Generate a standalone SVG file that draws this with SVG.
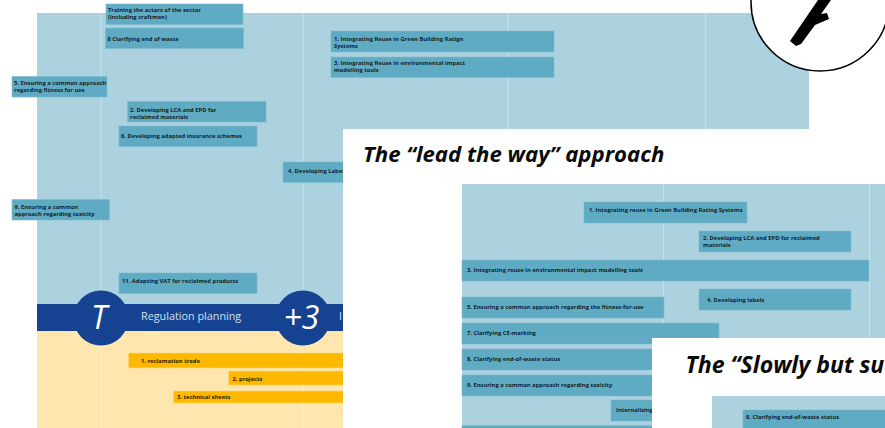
<svg xmlns="http://www.w3.org/2000/svg" width="885" height="428" viewBox="0 0 885 428">
<style>
text{font-family:"Open Sans","Noto Sans","Liberation Sans",sans-serif}
.panel{fill:#acd2e0}
.grid{stroke:#c7e0ea;stroke-width:1.2;fill:none}
.gridy{stroke:#fff0c9;stroke-width:1.2;fill:none}
.box{fill:#60abc4;stroke:#7db9ce;stroke-width:.6}
.bar{fill:#fdb900;stroke:#fdd777;stroke-width:.6}
.lbl{font-size:5.8px;font-weight:700;fill:#10242c}
.ybl{font-size:5.8px;font-weight:700;fill:#2d2200}
.title{font-size:22.2px;font-weight:700;font-style:italic;fill:#0a0a0a}
.title2{font-size:23.1px;font-weight:700;font-style:italic;fill:#0a0a0a}
.band{fill:#164391}
.cir{font-size:32px;font-style:italic;fill:#fff;text-anchor:middle}
.reg{font-size:10.8px;fill:#d4e0f0}
</style>
<g id="slide-1">
<rect class="panel" x="37" y="13" width="772" height="292"/>
<rect x="37" y="331" width="320" height="97" fill="#fee6ae"/>
<path class="grid" d="M101 13V305M303 13V305M508 13V129M705.500 13V129"/>
<path class="gridy" d="M101 331V428M303 331V428"/>
<rect class="band" x="37" y="304" width="320" height="27"/>
</g>
<g id="node-t"><circle class="band" cx="101" cy="318" r="27.500"/><text class="cir" x="99" y="329">T</text></g>
<g id="node-plus3"><circle class="band" cx="303" cy="318" r="27.500"/><text class="cir" x="301.500" y="329">+3</text></g>
<g id="node-regulation"><text class="reg" x="141" y="320">Regulation planning</text><text class="reg" x="339" y="320">I</text></g>
<g id="node-training"><rect class="box" x="106" y="4" width="137" height="20.500"/><text class="lbl"><tspan x="108" y="12">Training the actors of the sector</tspan><tspan x="108" y="19">(including craftmen)</tspan></text></g>
<g id="node-clarifying-waste"><rect class="box" x="105.500" y="28" width="138" height="20.500"/><text class="lbl" x="107.500" y="41">8 Clarifying end of waste</text></g>
<g id="node-fitness"><rect class="box" x="12" y="76.500" width="95" height="20.500"/><text class="lbl"><tspan x="14" y="85">5. Ensuring a common approach</tspan><tspan x="14" y="92">regarding fitness for use</tspan></text></g>
<g id="node-lca"><rect class="box" x="127.500" y="101.500" width="138.500" height="20.500"/><text class="lbl"><tspan x="130" y="111.500">2. Developing LCA and EPD for</tspan><tspan x="130" y="118.500">reclaimed materials</tspan></text></g>
<g id="node-insurance"><rect class="box" x="119" y="126" width="138" height="20.500"/><text class="lbl" x="121" y="138">6. Developing adapted insurance schemes</text></g>
<g id="node-labels-1"><rect class="box" x="283" y="162" width="62" height="20.500"/><text class="lbl" x="288" y="173">4. Developing Labels</text></g>
<g id="node-toxicity"><rect class="box" x="12" y="199.500" width="97.500" height="20.500"/><text class="lbl"><tspan x="14.500" y="208.500">9. Ensuring a common</tspan><tspan x="14.500" y="215.500">approach regarding toxicity</tspan></text></g>
<g id="node-vat"><rect class="box" x="119" y="273" width="138" height="20.500"/><text class="lbl" x="122" y="283">11. Adapting VAT for reclaimed products</text></g>
<g id="node-gbr-1"><rect class="box" x="331" y="31" width="223" height="21"/><text class="lbl"><tspan x="334" y="41">1. Integrating Reuse in Green Building Ratign</tspan><tspan x="334" y="48">Systems</tspan></text></g>
<g id="node-env-1"><rect class="box" x="331" y="57" width="223" height="20.500"/><text class="lbl"><tspan x="334" y="65">3. Integrating Reuse in environmental impact</tspan><tspan x="334" y="72">modelling tools</tspan></text></g>
<g id="node-trade"><rect class="bar" x="128.500" y="353" width="229" height="15"/><text class="ybl" x="141" y="363">1. reclamation trade</text></g>
<g id="node-projects"><rect class="bar" x="228.500" y="371" width="129" height="14"/><text class="ybl" x="232.500" y="380.500">2. projects</text></g>
<g id="node-sheets"><rect class="bar" x="173.500" y="391" width="184" height="12"/><text class="ybl" x="177" y="399">3. technical sheets</text></g>
<g id="node-branch-icon">
<circle cx="820" cy="2" r="69" fill="#fff" stroke="#000" stroke-width="1.500"/>
<path d="M790 41L818 0H831L821 14L827 13L829 19L815 25L801 44L796 46Z" fill="#000"/>
</g>
<g id="slide-2">
<rect x="343" y="129" width="542" height="299" fill="#fff"/>
<text class="title" x="363" y="162">The “lead the way” approach</text>
<rect class="panel" x="462" y="184" width="423" height="244"/>
<path class="grid" d="M663.500 184V428M869.500 184V428"/>
</g>
<g id="node-gbr-2"><rect class="box" x="584" y="202" width="163" height="21"/><text class="lbl" x="589" y="212">1. Integrating reuse in Green Building Rating Systems</text></g>
<g id="node-lca-2"><rect class="box" x="699" y="231" width="152" height="21"/><text class="lbl"><tspan x="703" y="240">2. Developing LCA and EPD for reclaimed</tspan><tspan x="703" y="247">materials</tspan></text></g>
<g id="node-env-2"><rect class="box" x="462" y="260" width="407" height="21"/><text class="lbl" x="467" y="272">3. Integrating reuse in environmental impact modelling tools</text></g>
<g id="node-labels-2"><rect class="box" x="699" y="289" width="152" height="21"/><text class="lbl" x="707" y="301.500">4. Developing labels</text></g>
<g id="node-fitness-2"><rect class="box" x="462" y="297" width="202" height="21"/><text class="lbl" x="467" y="309">5. Ensuring a common approach regarding the fitness-for-use</text></g>
<g id="node-ce"><rect class="box" x="462" y="323" width="257" height="21"/><text class="lbl" x="467" y="335">7. Clarifying CE-marking</text></g>
<g id="node-waste-2"><rect class="box" x="462" y="349" width="200" height="21"/><text class="lbl" x="467" y="361">8. Clarifying end-of-waste status</text></g>
<g id="node-toxicity-2"><rect class="box" x="462" y="375" width="200" height="21"/><text class="lbl" x="467" y="387">9. Ensuring a common approach regarding toxicity</text></g>
<g id="node-internalising"><rect class="box" x="611" y="400" width="50" height="21"/><text class="lbl" x="616" y="412">Internalising</text></g>
<g id="node-cut"><rect class="box" x="462" y="425.500" width="200" height="5"/></g>
<g id="slide-3">
<rect x="652" y="338" width="233" height="90" fill="#fff"/>
<text class="title2" x="685.500" y="373">The “Slowly but su</text>
<rect class="panel" x="712" y="396" width="173" height="32"/>
</g>
<g id="node-waste-3"><rect class="box" x="743" y="410" width="145" height="21"/><text class="lbl" x="746" y="419">8. Clarifying end-of-waste status</text></g>
<g id="connectors"></g>
</svg>
